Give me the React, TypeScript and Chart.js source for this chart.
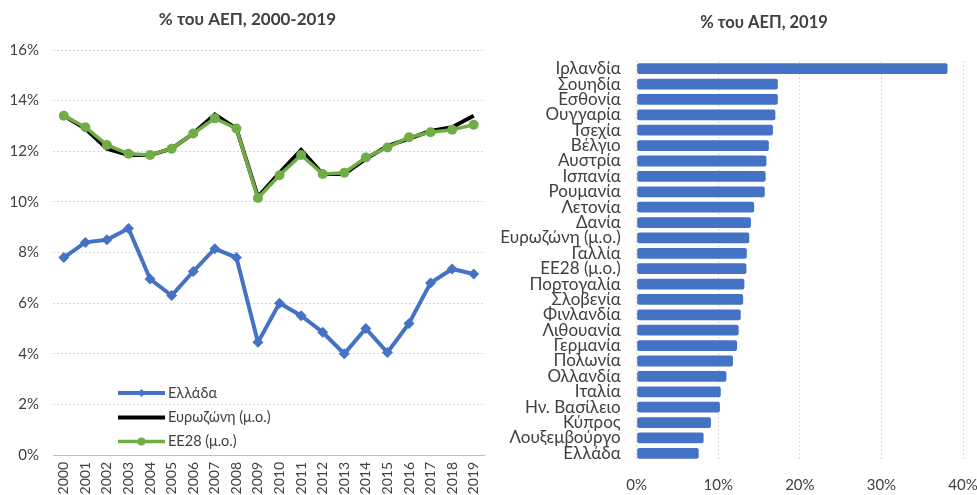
import React, { useEffect, useRef } from 'react';
import { Chart, registerables } from 'chart.js';

Chart.register(...registerables);

const FONT = "Lato, 'Open Sans', sans-serif";
const TEXT = '#404040';
const BLUE = '#4472C4';
const GREEN = '#70AD47';
const BLACK = '#000000';

// ---- Left chart data ----
const years = ['2000', '2001', '2002', '2003', '2004', '2005', '2006', '2007', '2008', '2009',
  '2010', '2011', '2012', '2013', '2014', '2015', '2016', '2017', '2018', '2019'];
const greece = [7.8, 8.4, 8.5, 8.95, 6.95, 6.3, 7.25, 8.15, 7.8, 4.45, 6.0, 5.5, 4.85, 4.0, 5.0, 4.05, 5.2, 6.8, 7.35, 7.15];
const eurozone = [13.4, 12.9, 12.1, 11.85, 11.85, 12.1, 12.7, 13.45, 12.9, 10.2, 11.15, 12.05, 11.1, 11.1, 11.7, 12.2, 12.5, 12.8, 12.95, 13.4];
const eu28 = [13.4, 12.95, 12.25, 11.9, 11.85, 12.1, 12.7, 13.3, 12.9, 10.15, 11.05, 11.85, 11.1, 11.15, 11.75, 12.15, 12.55, 12.75, 12.85, 13.05];
const seriesLabels = ['Ελλάδα', 'Ευρωζώνη (μ.ο.)', 'ΕΕ28 (μ.ο.)'];
const leftTitle = '% του ΑΕΠ, 2000-2019';

// ---- Right chart data ----
const countries = ['Ιρλανδία', 'Σουηδία', 'Εσθονία', 'Ουγγαρία', 'Τσεχία', 'Βέλγιο', 'Αυστρία', 'Ισπανία',
  'Ρουμανία', 'Λετονία', 'Δανία', 'Ευρωζώνη (μ.ο.)', 'Γαλλία', 'ΕΕ28 (μ.ο.)', 'Πορτογαλία', 'Σλοβενία',
  'Φινλανδία', 'Λιθουανία', 'Γερμανία', 'Πολωνία', 'Ολλανδία', 'Ιταλία', 'Ην. Βασίλειο', 'Κύπρος',
  'Λουξεμβούργο', 'Ελλάδα'];
const values2019 = [38.1, 17.3, 17.3, 17.0, 16.7, 16.2, 15.9, 15.8, 15.7, 14.4, 14.0, 13.8, 13.5, 13.45,
  13.2, 13.05, 12.75, 12.5, 12.3, 11.8, 11.0, 10.3, 10.2, 9.1, 8.2, 7.6];
const rightTitle = '% του ΑΕΠ, 2019';

function makeTitlePlugin(text: string, x: number, y: number, size: number) {
  return {
    id: 'customTitle',
    afterDraw(chart: any) {
      const ctx = chart.ctx;
      ctx.save();
      ctx.font = `bold ${size}px ${FONT}`;
      ctx.fillStyle = TEXT;
      ctx.textAlign = 'center';
      ctx.textBaseline = 'middle';
      ctx.fillText(text, x, y);
      ctx.restore();
    },
  };
}

const insideLegend = {
  id: 'insideLegend',
  afterDatasetsDraw(chart: any) {
    const ctx = chart.ctx;
    const rows = [393, 417.5, 441.5];
    chart.data.datasets.forEach((ds: any, i: number) => {
      const y = rows[i];
      ctx.save();
      ctx.strokeStyle = ds.borderColor;
      ctx.lineWidth = ds.borderWidth;
      ctx.beginPath();
      ctx.moveTo(118, y);
      ctx.lineTo(165, y);
      ctx.stroke();
      const cx = 141.5;
      ctx.fillStyle = ds.borderColor;
      if (ds.pointStyle === 'rectRot' && ds.pointRadius > 0) {
        const r = 4;
        ctx.beginPath();
        ctx.moveTo(cx - r, y);
        ctx.lineTo(cx, y - r);
        ctx.lineTo(cx + r, y);
        ctx.lineTo(cx, y + r);
        ctx.closePath();
        ctx.fill();
      } else if (ds.pointStyle === 'circle' && ds.pointRadius > 0) {
        ctx.beginPath();
        ctx.arc(cx, y, 4, 0, Math.PI * 2);
        ctx.fill();
      }
      ctx.fillStyle = TEXT;
      ctx.font = `14.5px ${FONT}`;
      ctx.textAlign = 'left';
      ctx.textBaseline = 'middle';
      ctx.fillText(ds.label, 168, y);
      ctx.restore();
    });
  },
};

const noPad = (s: any) => {
  s.paddingLeft = 0; s.paddingRight = 0; s.paddingTop = 0; s.paddingBottom = 0;
};

function LeftChart() {
  const ref = useRef<HTMLCanvasElement>(null);
  useEffect(() => {
    const chart = new Chart(ref.current as HTMLCanvasElement, {
      type: 'line',
      data: {
        labels: years,
        datasets: [
          {
            label: seriesLabels[0], data: greece, borderColor: BLUE, backgroundColor: BLUE,
            borderWidth: 4, pointStyle: 'rectRot', pointRadius: 5.5, pointBorderWidth: 0, order: 0,
          },
          {
            label: seriesLabels[1], data: eurozone, borderColor: BLACK, backgroundColor: BLACK,
            borderWidth: 4, pointRadius: 0, order: 2,
          },
          {
            label: seriesLabels[2], data: eu28, borderColor: GREEN, backgroundColor: GREEN,
            borderWidth: 3.5, pointStyle: 'circle', pointRadius: 5, pointBorderWidth: 0, order: 1,
          },
        ] as any,
      },
      options: {
        animation: false,
        responsive: false,
        layout: { padding: { top: 50, right: 2, left: 0, bottom: 0 } },
        plugins: { legend: { display: false }, title: { display: false }, tooltip: { enabled: false } },
        scales: {
          x: {
            offset: true,
            grid: { display: false, drawTicks: false },
            border: { display: true, color: '#BFBFBF', width: 1 },
            ticks: {
              color: TEXT, font: { family: FONT, size: 14 }, minRotation: 90, maxRotation: 90,
              autoSkip: false, padding: 7,
            },
            afterFit: (s: any) => { s.height = 40; noPad(s); },
          },
          y: {
            min: 0, max: 16,
            grid: { color: '#D9D9D9', lineWidth: 1, drawTicks: false },
            border: { display: false, dash: [2, 2] },
            ticks: {
              stepSize: 2, color: TEXT, font: { family: FONT, size: 15 }, padding: 14,
              callback: (v: any) => `${v}%`,
            },
            afterFit: (s: any) => { s.width = 53; noPad(s); },
          },
        },
      },
      plugins: [makeTitlePlugin(leftTitle, 247.5, 20, 17), insideLegend],
    });
    return () => chart.destroy();
  }, []);
  return <canvas ref={ref} width={490} height={495} style={{ display: 'block' }} />;
}

function RightChart() {
  const ref = useRef<HTMLCanvasElement>(null);
  useEffect(() => {
    const chart = new Chart(ref.current as HTMLCanvasElement, {
      type: 'bar',
      data: {
        labels: countries,
        datasets: [
          {
            label: rightTitle, data: values2019, backgroundColor: BLUE, borderWidth: 0,
            barPercentage: 0.7, categoryPercentage: 1, borderRadius: 2, borderSkipped: false,
          },
        ] as any,
      },
      options: {
        indexAxis: 'y',
        animation: false,
        responsive: false,
        layout: { padding: { top: 61, right: 14, left: 0, bottom: 0 } },
        plugins: { legend: { display: false }, title: { display: false }, tooltip: { enabled: false } },
        scales: {
          x: {
            min: 0, max: 40,
            grid: { color: '#D9D9D9', lineWidth: 1, drawTicks: false },
            border: { display: false, dash: [2, 2] },
            ticks: {
              stepSize: 10, color: TEXT, font: { family: FONT, size: 15 }, padding: 15,
              callback: (v: any) => `${v}%`,
            },
            afterFit: (s: any) => { s.height = 34; noPad(s); },
          },
          y: {
            grid: { display: false, drawTicks: false },
            border: { display: false },
            ticks: { color: TEXT, font: { family: FONT, size: 17 }, padding: 16, autoSkip: false },
            afterFit: (s: any) => { s.width = 146.7; noPad(s); },
          },
        },
      },
      plugins: [makeTitlePlugin(rightTitle, 274, 23, 16.5)],
    });
    return () => chart.destroy();
  }, []);
  return <canvas ref={ref} width={487} height={495} style={{ display: 'block' }} />;
}

export default function App() {
  return (
    <div style={{ position: 'absolute', left: 0, top: 0, width: 977, height: 495, background: '#fff' }}>
      <div style={{ position: 'absolute', left: 0, top: 0, width: 490, height: 495 }}>
        <LeftChart />
      </div>
      <div style={{ position: 'absolute', left: 490, top: 0, width: 487, height: 495 }}>
        <RightChart />
      </div>
    </div>
  );
}
